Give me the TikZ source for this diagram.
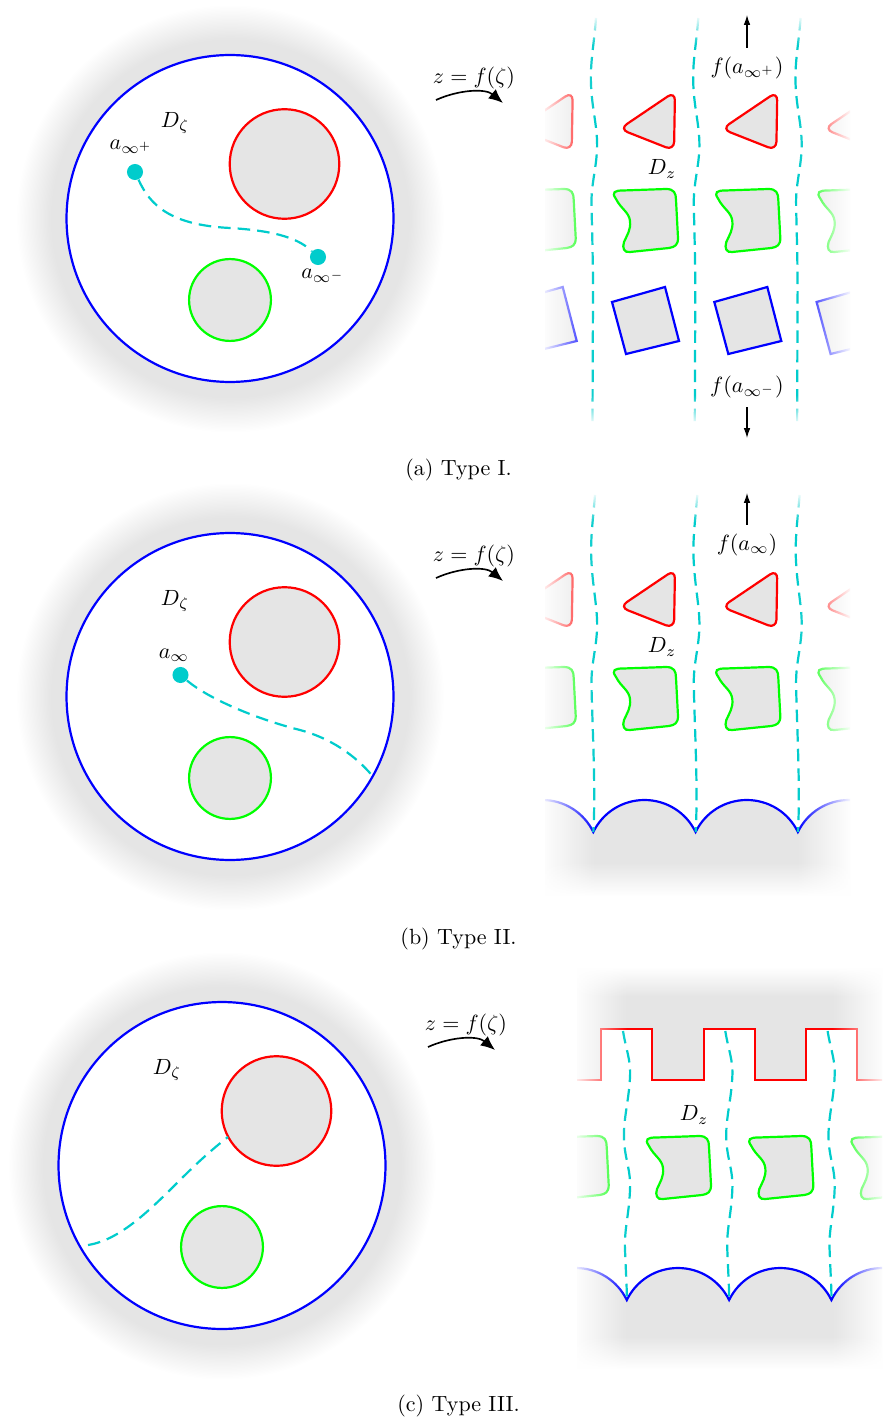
\documentclass[tikz,border=0pt]{standalone}
\usepackage{amsmath}
\usetikzlibrary{arrows.meta,fadings}
\definecolor{myblue}{RGB}{0,0,255}
\definecolor{myred}{RGB}{255,0,0}
\definecolor{mygreen}{RGB}{0,255,0}
\definecolor{mycyan}{RGB}{0,204,204}
\pgfdeclareradialshading{halo}{\pgfpointorigin}{color(0bp)=(black!10); color(21bp)=(black!10); color(23bp)=(black!5); color(25bp)=(white); color(50bp)=(white)}
\tikzfading[name=opqleft, left color=transparent!0, right color=transparent!100]
\tikzfading[name=opqright, left color=transparent!100, right color=transparent!0]
\tikzfading[name=opqtop, top color=transparent!0, bottom color=transparent!100]
\tikzfading[name=opqbottom, top color=transparent!100, bottom color=transparent!0]
\tikzset{
  hole/.style={fill=black!10, line width=1pt},
  rim/.style={line width=1pt},
  cdash/.style={draw=mycyan, line width=1pt, dash pattern=on 5.7pt off 3.2pt},
  dot/.style={circle, fill=mycyan, inner sep=0pt, minimum size=7.3pt},
  lab/.style={inner sep=0pt},
  maparrow/.style={line width=0.75pt, -{Latex[length=6.5pt,width=5.5pt]}},
  farrow/.style={line width=0.5pt, -{Latex[length=4.5pt,width=3pt]}},
  whiteover/.style={fill=white, draw=none},
}
\newcommand\redtri{\draw[hole, draw=myred, rounded corners=4pt] (619.5,129) -- (675,91.5) -- (674,150.5) -- cycle;}
\newcommand\bluesq{\draw[hole, draw=myblue] (612,302) -- (665,287) -- (679,341) -- (626,354) -- cycle;}
\newcommand\greenblob{\draw[hole, draw=mygreen]
 (616,199) .. controls (611,192) and (615,190.5) .. (623,190.5)
 -- (666,189) .. controls (674,189) and (676,193) .. (676,200)
 -- (678,238) .. controls (678,245) and (675,247) .. (669,248)
 -- (630,252) .. controls (624,253) and (622,248) .. (624,242)
 .. controls (627,235) and (631,230) .. (630,221)
 .. controls (629,212) and (621,209) .. (616,199) -- cycle;}
\newcommand\leftdisk{%
  \shade[shading=halo] (230,218.5) circle[radius=97.3pt];
  \draw[rim, draw=myblue, fill=white] (230,218.5) circle[radius=74.3pt];
  \draw[hole, draw=myred] (284.5,164) circle[radius=24.9pt];
  \draw[hole, draw=mygreen] (230,300) circle[radius=18.6pt];}
\begin{document}
\begin{tikzpicture}[x=0.4545pt, y=-0.4545pt]
\useasboundingbox (0,0) rectangle (885,1419);
\fill[white] (0,0) rectangle (885,1419);

% ================= (a) =================
\begin{scope}
  \leftdisk
  \node[lab] (Dzeta1) at (175,123) {$D_\zeta$};
\end{scope}
\node[dot] (ap) at (135,172) {};
\node[dot] (am) at (318,257) {};
\node[lab] (lap) at (131,147) {$a_{\infty^+}$};
\node[lab] (lam) at (323,276) {$a_{\infty^-}$};
\draw[cdash] (ap) .. controls (150,205) and (170,225) .. (230,228) .. controls (280,231) and (300,240) .. (am);

\node[lab] (mapa) at (474,78) {$z=f(\zeta)$};
\coordinate (ma1) at (436,100);
\coordinate (ma2) at (503,103);
\draw[maparrow] (ma1) .. controls (458,90) and (485,88) .. (ma2);

\begin{scope}
  \clip (545,0) rectangle (850,440);
  \foreach \k in {-1,0,1,2} {
    \begin{scope}[shift={(\k*102.3,0)}]
      \redtri \greenblob \bluesq
    \end{scope}
  }
\end{scope}
\foreach \k in {0,1,2} {
  \draw[cdash, shift={(\k*102.3,0)}] (596,18) .. controls (594,45) and (590,62) .. (591,85)
    .. controls (592,110) and (598,128) .. (597,150) .. controls (596,170) and (591,185) .. (591.5,205)
    .. controls (592,230) and (593,260) .. (593,290) -- (592.5,422);
}
\fill[whiteover, path fading=opqleft] (540,0) rectangle (595,440);
\fill[whiteover, path fading=opqright] (797,0) rectangle (852,440);
\fill[whiteover] (540,0) rectangle (852,15);
\fill[whiteover, path fading=opqtop] (540,15) rectangle (852,45);
\fill[whiteover, path fading=opqbottom] (540,395) rectangle (852,425);
\fill[whiteover] (540,425) rectangle (852,440);

\node[lab] (Dza) at (662,169) {$D_z$};
\node[lab] (fap) at (747,68) {$f(a_{\infty^+})$};
\node[lab] (fam) at (747,387) {$f(a_{\infty^-})$};
\coordinate (upa) at (747,15);
\coordinate (dna) at (747,438);
\draw[farrow, shorten <=4pt] (fap) -- (upa);
\draw[farrow, shorten <=4pt] (fam) -- (dna);
\node (capa) at (458.5,470) {(a) Type I.};

% ================= (b) =================
\begin{scope}[shift={(0,478)}]
  \leftdisk
  \node[lab] (Dzeta2) at (175,123) {$D_\zeta$};
\end{scope}
\node[dot] (ab) at (180.5,675) {};
\node[lab] (lab) at (174,655) {$a_{\infty}$};
\coordinate (bend) at (372.5,776);
\draw[cdash] (ab) .. controls (210,700) and (260,720) .. (300,730) .. controls (330,738) and (355,755) .. (bend);

\node[lab] (mapb) at (474,556) {$z=f(\zeta)$};
\coordinate (mb1) at (436,578);
\coordinate (mb2) at (503,581);
\draw[maparrow] (mb1) .. controls (458,568) and (485,566) .. (mb2);

\begin{scope}
  \clip (545,477) rectangle (850,895);
  \fill[black!10] (491,832) \foreach \c in {491,593.3,695.6,797.9} { .. controls (\c+9.6,812.3) and (\c+29.25,800) .. (\c+51.15,800) .. controls (\c+73.05,800) and (\c+92.7,812.3) .. (\c+102.3,832) } -- (900.2,895) -- (491,895) -- cycle;
  \foreach \k in {-1,0,1,2} {
    \begin{scope}[shift={(\k*102.3,478)}]
      \redtri \greenblob
    \end{scope}
  }
  \draw[rim, draw=myblue] (491,832) \foreach \c in {491,593.3,695.6,797.9} { .. controls (\c+9.6,812.3) and (\c+29.25,800) .. (\c+51.15,800) .. controls (\c+73.05,800) and (\c+92.7,812.3) .. (\c+102.3,832) };
\end{scope}
\foreach \k in {0,1,2} {
  \draw[cdash, shift={(\k*102.3,0)}] (595,495) .. controls (593,520) and (590,540) .. (591.5,563)
    .. controls (593,590) and (598,610) .. (597,630) .. controls (596,650) and (591,665) .. (591.5,685)
    .. controls (592,720) and (596,790) .. (593.3,832);
}
\fill[whiteover, path fading=opqleft] (540,477) rectangle (595,895);
\fill[whiteover, path fading=opqright] (797,477) rectangle (852,895);
\fill[whiteover, path fading=opqtop] (540,492) rectangle (852,522);
\fill[whiteover, path fading=opqbottom] (540,862) rectangle (852,895.5);

\node[lab] (Dzb) at (662,647) {$D_z$};
\node[lab] (fab) at (747,545) {$f(a_{\infty})$};
\coordinate (upb) at (747,493);
\draw[farrow, shorten <=4pt] (fab) -- (upb);
\node (capb) at (458.5,939) {(b) Type II.};

% ================= (c) =================
\begin{scope}[shift={(-8,947)}]
  \leftdisk
  \node[lab] (Dzeta3) at (175,123) {$D_\zeta$};
\end{scope}
\coordinate (c1) at (88,1245);
\coordinate (c2) at (228,1137);
\draw[cdash] (c1) .. controls (120,1240) and (150,1210) .. (180,1180) .. controls (200,1160) and (215,1147) .. (c2);

\node[lab] (mapc) at (466,1025) {$z=f(\zeta)$};
\coordinate (mc1) at (428,1047);
\coordinate (mc2) at (495,1050);
\draw[maparrow] (mc1) .. controls (450,1037) and (477,1035) .. (mc2);

\begin{scope}
  \clip (577,968) rectangle (882,1368);
  \fill[black!10] (560,954) -- (560,1080) -- (601.3,1080) -- (601.3,1029) -- (652.3,1029) -- (652.3,1080)
     -- (703.6,1080) -- (703.6,1029) -- (754.6,1029) -- (754.6,1080) -- (805.9,1080) -- (805.9,1029)
     -- (856.9,1029) -- (856.9,1080) -- (900,1080) -- (900,954) -- cycle;
  \fill[black!10] (524.5,1300) \foreach \c in {524.5,626.8,729.1,831.4} { .. controls (\c+9.6,1280.3) and (\c+29.25,1268) .. (\c+51.15,1268) .. controls (\c+73.05,1268) and (\c+92.7,1280.3) .. (\c+102.3,1300) } -- (933.7,1383) -- (524.5,1383) -- cycle;
  \foreach \k in {-1,0,1,2} {
    \begin{scope}[shift={(33+\k*102.3,947)}]
      \greenblob
    \end{scope}
  }
  \draw[rim, draw=myred] (560,1080) -- (601.3,1080) -- (601.3,1029) -- (652.3,1029) -- (652.3,1080)
     -- (703.6,1080) -- (703.6,1029) -- (754.6,1029) -- (754.6,1080) -- (805.9,1080) -- (805.9,1029)
     -- (856.9,1029) -- (856.9,1080) -- (900,1080);
  \draw[rim, draw=myblue] (524.5,1300) \foreach \c in {524.5,626.8,729.1,831.4} { .. controls (\c+9.6,1280.3) and (\c+29.25,1268) .. (\c+51.15,1268) .. controls (\c+73.05,1268) and (\c+92.7,1280.3) .. (\c+102.3,1300) };
\end{scope}
\foreach \k in {0,1,2} {
  \draw[cdash, shift={(\k*102.3,0)}] (623,1031) .. controls (626,1050) and (631,1060) .. (630,1077)
    .. controls (629,1100) and (623,1120) .. (624,1140) .. controls (625,1160) and (631,1170) .. (630,1190)
    .. controls (629,1215) and (624,1230) .. (625,1250) .. controls (626,1275) and (627,1290) .. (626.8,1300);
}
\fill[whiteover, path fading=opqleft] (572,968) rectangle (627,1368);
\fill[whiteover, path fading=opqright] (832,968) rectangle (887,1368);
\fill[whiteover, path fading=opqtop] (572,967.5) rectangle (887,997);
\fill[whiteover, path fading=opqbottom] (572,1336) rectangle (887,1368.5);

\node[lab] (Dzc) at (694,1115) {$D_z$};
\node (capc) at (458.5,1406) {(c) Type III.};
\end{tikzpicture}
\end{document}
